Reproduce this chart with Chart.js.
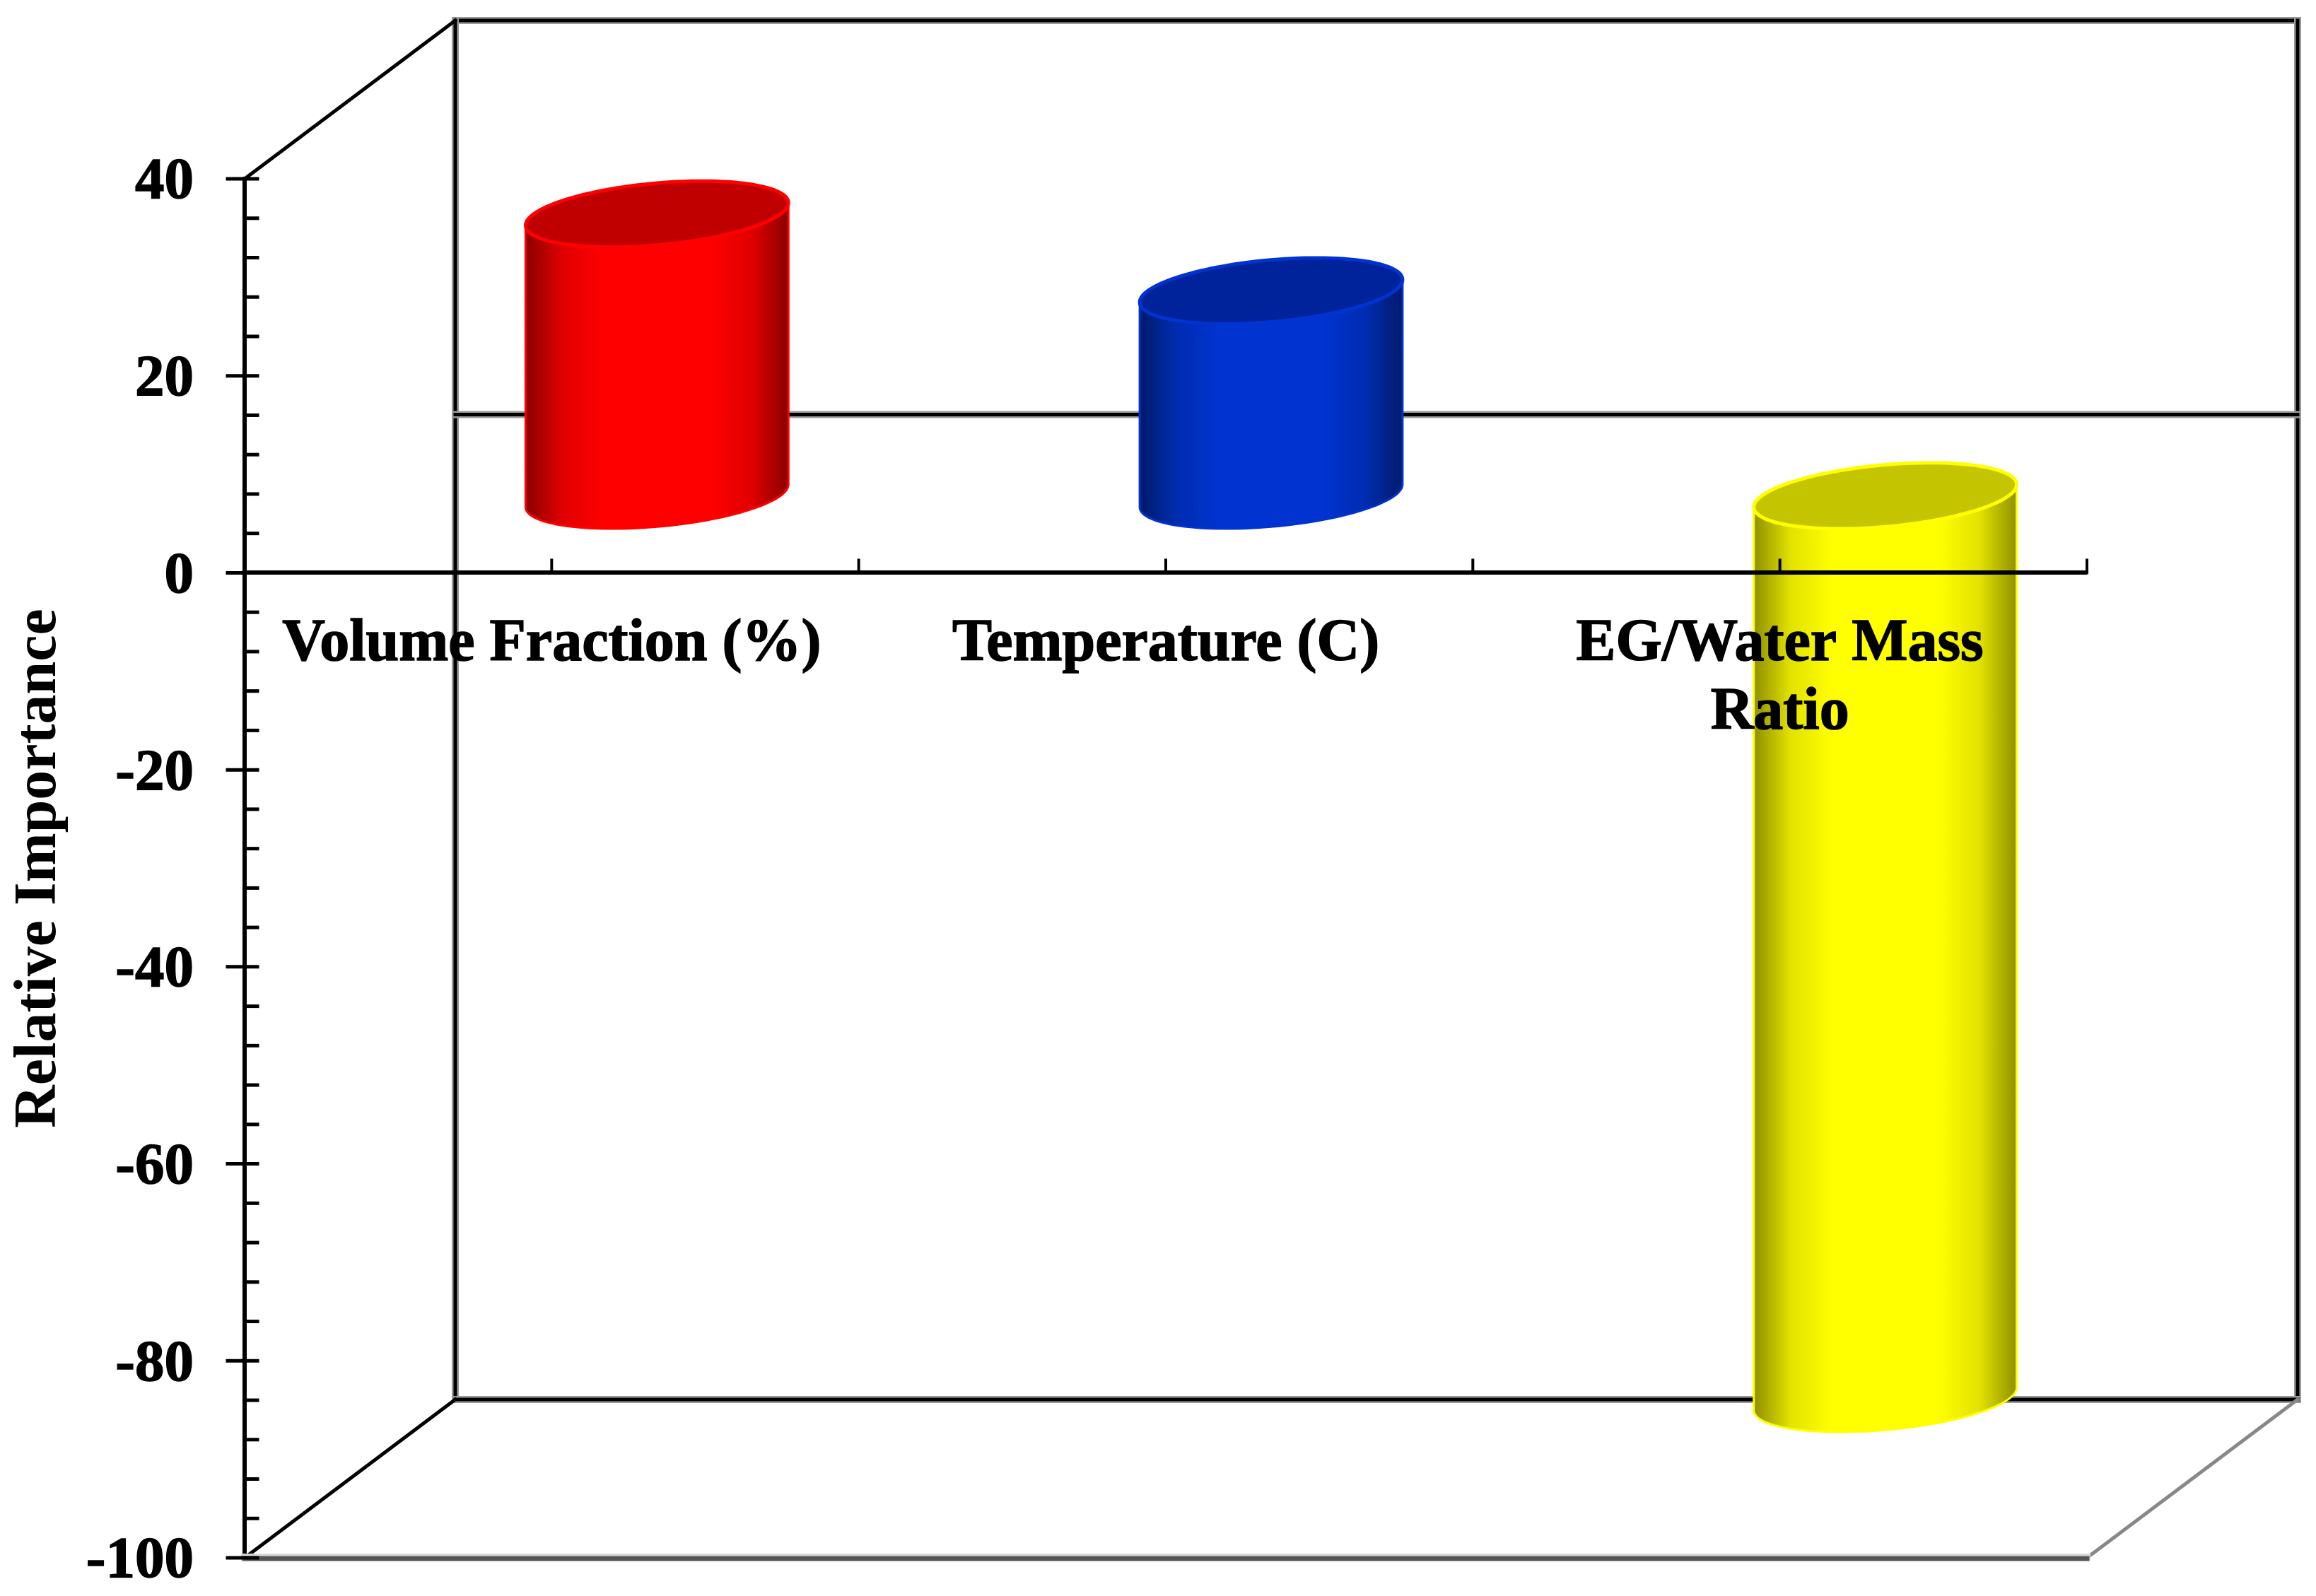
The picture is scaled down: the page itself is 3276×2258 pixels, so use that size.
<!DOCTYPE html>
<html>
<head>
<meta charset="utf-8">
<style>
  html, body { margin: 0; padding: 0; background: #fff; }
  canvas { display: block; }
</style>
<script src="https://cdn.jsdelivr.net/npm/chart.js@4/dist/chart.umd.min.js"></script>
</head>
<body>
<canvas id="barChart" width="3276" height="2258"></canvas>
<script>
const categories = ['Volume Fraction (%)', 'Temperature (C)', ['EG/Water Mass', 'Ratio']];
const importance = [28.6, 20.8, -91.7];
const bodyColors = ['#ff0000', '#0033cf', '#ffff00'];
const edgeColors = ['#8a0000', '#001a6a', '#8f8f00'];
const midColors = ['#e00000', '#002cb0', '#e2e200'];
const capColors = ['#c00000', '#00229a', '#c4c400'];

const yMin = -100, yMax = 40, yStep = 4, yMajor = 20;
const fontName = '"Liberation Serif", "Times New Roman", serif';

// offset of the back wall from the front of the box
const depthX = 298, depthY = 224;
const barLift = 109;

function line(ctx, x1, y1, x2, y2, color, width) {
  ctx.save();
  ctx.strokeStyle = color;
  ctx.lineWidth = width;
  ctx.lineCap = 'square';
  ctx.beginPath();
  ctx.moveTo(x1, y1);
  ctx.lineTo(x2, y2);
  ctx.stroke();
  ctx.restore();
}

function wallLine(ctx, x1, y1, x2, y2) {
  line(ctx, x1, y1, x2, y2, '#9a9a9a', 10);
  line(ctx, x1, y1, x2, y2, '#000', 5);
}

function drawCylinder(ctx, el, i) {
  const cx = el.x + depthX / 2;
  const a = el.width / 2;
  const tilt = -a * 0.086;
  const b = a * 0.236;
  const top = Math.min(el.y, el.base) - barLift;
  const bottom = Math.max(el.y, el.base) - barLift;

  const grad = ctx.createLinearGradient(cx - a, 0, cx + a, 0);
  grad.addColorStop(0, edgeColors[i]);
  grad.addColorStop(0.14, midColors[i]);
  grad.addColorStop(0.3, bodyColors[i]);
  grad.addColorStop(0.7, bodyColors[i]);
  grad.addColorStop(0.86, midColors[i]);
  grad.addColorStop(1, edgeColors[i]);

  ctx.save();
  ctx.beginPath();
  ctx.moveTo(cx - a, top - tilt);
  ctx.lineTo(cx - a, bottom - tilt);
  for (let t = Math.PI; t >= 0; t -= Math.PI / 60) {
    ctx.lineTo(cx + a * Math.cos(t), bottom + tilt * Math.cos(t) + b * Math.sin(t));
  }
  ctx.lineTo(cx + a, top + tilt);
  ctx.closePath();
  ctx.fillStyle = grad;
  ctx.fill();
  ctx.strokeStyle = bodyColors[i];
  ctx.lineWidth = 3;
  ctx.stroke();

  // top cap, sheared so that it leans up to the right
  ctx.beginPath();
  ctx.moveTo(cx + a, top + tilt);
  for (let t = Math.PI / 60; t <= Math.PI * 2; t += Math.PI / 60) {
    ctx.lineTo(cx + a * Math.cos(t), top + tilt * Math.cos(t) + b * Math.sin(t));
  }
  ctx.closePath();
  ctx.fillStyle = capColors[i];
  ctx.fill();
  ctx.strokeStyle = bodyColors[i];
  ctx.lineWidth = 5;
  ctx.stroke();
  ctx.restore();
}

const box3d = {
  id: 'box3d',
  beforeDatasetsDraw(chart) {
    const ctx = chart.ctx;
    const { left, right, top, bottom } = chart.chartArea;
    const zero = chart.scales.y.getPixelForValue(0);
    const bl = left + depthX, br = right + depthX;
    const bt = top - depthY, bb = bottom - depthY;

    wallLine(ctx, bl, bt, br, bt);
    wallLine(ctx, bl, bt, bl, bb);
    wallLine(ctx, br, bt, br, bb);
    wallLine(ctx, bl, bb, br, bb);
    wallLine(ctx, bl, zero - depthY, br, zero - depthY);
    line(ctx, left, top, bl, bt, '#000', 5);
    line(ctx, left, bottom, bl, bb, '#000', 5);
    line(ctx, right, bottom, br, bb, '#888', 5);
    line(ctx, left, bottom - 1, right, bottom - 1, '#d8d8d8', 10);
    line(ctx, left, bottom + 1, right, bottom + 1, '#555', 7);
  },
  beforeDatasetDraw(chart, args) {
    args.meta.data.forEach((el, i) => drawCylinder(chart.ctx, el, i));
    return false;
  },
  afterDatasetsDraw(chart) {
    const ctx = chart.ctx;
    const { x, y } = chart.scales;
    y.ticks.forEach(t => {
      const p = y.getPixelForValue(t.value);
      const from = t.value % yMajor === 0 ? y.right - 24 : y.right;
      line(ctx, from, p, y.right + 18, p, '#000', 5);
    });
    const zero = y.getPixelForValue(0);
    for (let v = 0; v < categories.length * 2 + 1; v++) {
      const p = x.getPixelForValue(v / 2 - 0.5);
      if (v > 0) line(ctx, p, zero - 18, p, zero, '#000', 4);
    }
  }
};

// keep tick labels from pushing the plot area around
function noPadding(scale) {
  scale.paddingTop = 0;
  scale.paddingBottom = 0;
  scale.paddingLeft = 0;
  scale.paddingRight = 0;
}

new Chart(document.getElementById('barChart'), {
  type: 'bar',
  data: {
    labels: categories,
    datasets: [{
      label: 'Relative Importance',
      data: importance,
      backgroundColor: bodyColors,
      barPercentage: 0.428,
      categoryPercentage: 1
    }]
  },
  plugins: [box3d],
  options: {
    responsive: false,
    animation: false,
    devicePixelRatio: 1,
    layout: { padding: { left: 0, right: 324, top: 253, bottom: 54 } },
    plugins: { legend: { display: false }, title: { display: false }, tooltip: { enabled: false } },
    scales: {
      x: {
        position: { y: 0 },
        afterFit(scale) { scale.height = 0; noPadding(scale); },
        grid: { display: false, drawTicks: false, lineWidth: 0 },
        border: { display: true, color: '#000', width: 6, z: 1 },
        ticks: {
          z: 2,
          color: '#000',
          textStrokeColor: '#000',
          textStrokeWidth: 1.5,
          padding: 54,
          autoSkip: false,
          maxRotation: 0,
          minRotation: 0,
          font: { family: fontName, weight: 'bold', size: 84, lineHeight: 1.15 }
        }
      },
      y: {
        min: yMin,
        max: yMax,
        afterFit(scale) { scale.width = 346; noPadding(scale); },
        grid: { display: false, drawTicks: false, lineWidth: 0 },
        border: { display: true, color: '#000', width: 6 },
        title: {
          display: true,
          text: 'Relative Importance',
          color: '#000',
          padding: { top: 6, bottom: 0 },
          font: { family: fontName, weight: 'bold', size: 84 }
        },
        ticks: {
          stepSize: yStep,
          autoSkip: false,
          color: '#000',
          textStrokeColor: '#000',
          textStrokeWidth: 1.5,
          padding: 72,
          labelOffset: 6,
          font: { family: fontName, weight: 'bold', size: 83 },
          callback: v => (v % yMajor === 0 ? String(v) : '')
        }
      }
    }
  }
});
</script>
</body>
</html>
